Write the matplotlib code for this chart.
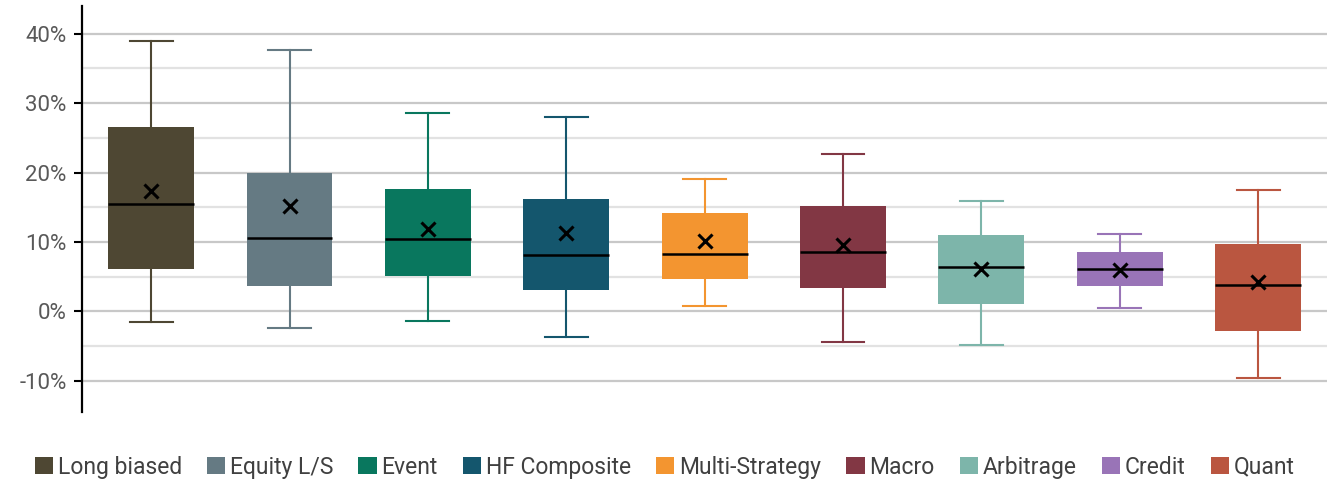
import numpy as np
import matplotlib
matplotlib.use('Agg')
import matplotlib.pyplot as plt
from matplotlib.patches import Patch
from matplotlib.ticker import MultipleLocator, FuncFormatter

plt.rcParams['font.family'] = ['Roboto', 'DejaVu Sans']

# valores em %
categorias = ['Long biased', 'Equity L/S', 'Event', 'HF Composite', 'Multi-Strategy',
              'Macro', 'Arbitrage', 'Credit', 'Quant']
whis_hi = [38.9, 37.7, 28.6, 28.0, 19.1, 22.7, 15.9, 11.2, 17.5]
q3 = [26.6, 20.0, 17.6, 16.2, 14.2, 15.2, 11.0, 8.5, 9.7]
mediana = [15.5, 10.6, 10.4, 8.1, 8.3, 8.6, 6.4, 6.1, 3.8]
media = [17.3, 15.2, 11.8, 11.3, 10.1, 9.6, 6.1, 6.0, 4.3]
q1 = [6.1, 3.7, 5.1, 3.1, 4.6, 3.4, 1.1, 3.7, -2.8]
whis_lo = [-1.5, -2.4, -1.4, -3.7, 0.7, -4.4, -4.8, 0.5, -9.6]
cores = ['#4e4733', '#657a83', '#09775e', '#14566d', '#f39530',
         '#823744', '#7db5aa', '#9974b7', '#ba5640']

fig = plt.figure(figsize=(13.29, 4.84), dpi=100)
ax = fig.add_axes([0.0617, 0.1488, 0.937, 0.8388])

ax.yaxis.set_major_locator(MultipleLocator(10))
ax.yaxis.set_minor_locator(MultipleLocator(5))
ax.grid(True, which='major', axis='y', color='#c8c8c8', linewidth=1.6)
ax.grid(True, which='minor', axis='y', color='#e2e2e2', linewidth=1.6)
ax.set_axisbelow(True)

for k in range(len(categorias)):
    stats = [dict(med=mediana[k], q1=q1[k], q3=q3[k], whislo=whis_lo[k],
                  whishi=whis_hi[k], mean=media[k], fliers=[])]
    ax.bxp(stats, positions=[k], widths=0.62, patch_artist=True, showmeans=True,
           boxprops=dict(facecolor=cores[k], edgecolor=cores[k], linewidth=0),
           medianprops=dict(color='black', linewidth=1.8),
           whiskerprops=dict(color=cores[k], linewidth=1.5),
           capprops=dict(color=cores[k], linewidth=1.5),
           capwidths=0.31,
           meanprops=dict(marker='x', markeredgecolor='black', markersize=10,
                          markeredgewidth=2.2))

ax.set_xlim(-0.5, 8.5)
ax.set_ylim(-14.5, 44)
ax.set_xticks([])
ax.yaxis.set_major_formatter(FuncFormatter(lambda v, p: f'{v:.0f}%'))
ax.tick_params(axis='y', which='major', length=6, width=1.5, color='black',
               labelsize=16, labelcolor='#595959', pad=5)
ax.tick_params(axis='y', which='minor', length=0)
for s in ['top', 'right', 'bottom']:
    ax.spines[s].set_visible(False)
ax.spines['left'].set_linewidth(1.6)

handles = [Patch(facecolor=c, edgecolor='none') for c in cores]
leg = fig.legend(handles, categorias, loc='center', bbox_to_anchor=(0.5, 0.035), ncol=9,
                 frameon=False, fontsize=16.5, handlelength=0.8, handleheight=0.8,
                 handletextpad=0.2, columnspacing=1.1)
for t in leg.get_texts():
    t.set_color('#404040')

fig.savefig('out.png', dpi=100)
